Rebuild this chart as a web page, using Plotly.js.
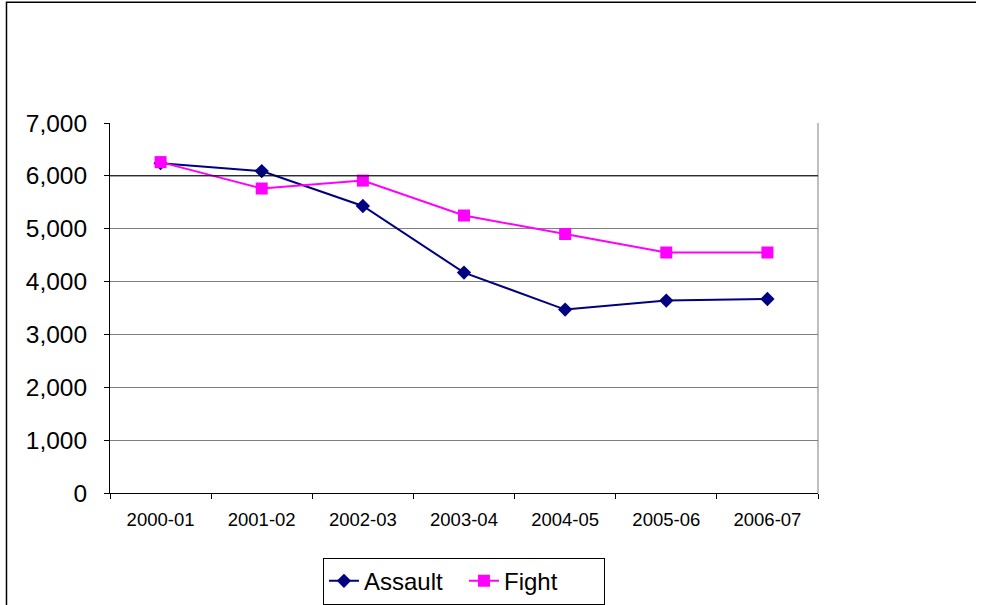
<!DOCTYPE html>
<html>
<head>
<meta charset="utf-8">
<script src="https://cdn.plot.ly/plotly-3.0.1.min.js"></script>
<style>html,body{margin:0;padding:0;background:#fff;}#chart{width:981px;height:605px;}</style>
</head>
<body>
<div id="chart"></div>
<script>
var categories = ["2000-01","2001-02","2002-03","2003-04","2004-05","2005-06","2006-07"];
var assault = [6240, 6090, 5430, 4170, 3470, 3640, 3670];
var fight = [6260, 5760, 5910, 5250, 4900, 4550, 4550];
var yTickVals = [0,1000,2000,3000,4000,5000,6000,7000];
var yTickText = ["0","1,000","2,000","3,000","4,000","5,000","6,000","7,000"];

var traces = [
  {x: categories, y: assault, name: "Assault", type: "scatter", mode: "lines+markers",
   line: {color: "#000080", width: 2}, marker: {symbol: "diamond", size: 11, color: "#000080"}},
  {x: categories, y: fight, name: "Fight", type: "scatter", mode: "lines+markers",
   line: {color: "#FF00FF", width: 2}, marker: {symbol: "square", size: 12, color: "#FF00FF"}}
];

var layout = {
  width: 981, height: 605,
  margin: {l: 110, r: 163, t: 123, b: 112, pad: 0, autoexpand: false},
  paper_bgcolor: "#fff", plot_bgcolor: "#fff",
  font: {family: "Arial, 'Liberation Sans', sans-serif", color: "#000"},
  showlegend: true,
  xaxis: {
    type: "category", range: [-0.5, 6.5], tickson: "boundaries",
    ticks: "outside", ticklen: 5, tickcolor: "#000", tickwidth: 1,
    showline: true, linecolor: "#000", linewidth: 1, showgrid: false, zeroline: false,
    tickfont: {size: 18.5, color: "#000"}, ticklabelstandoff: 10, fixedrange: true, automargin: false
  },
  yaxis: {
    range: [0, 7000], tickvals: yTickVals, ticktext: yTickText,
    ticks: "outside", ticklen: 5, tickcolor: "#000", tickwidth: 1,
    showline: true, linecolor: "#000", linewidth: 1,
    showgrid: true, gridcolor: "#808080", gridwidth: 1, zeroline: false,
    tickfont: {size: 24.5, color: "#000"}, ticklabelstandoff: 12, fixedrange: true, automargin: false
  },
  legend: {
    orientation: "h", x: 0.3008, xanchor: "left", y: -0.175, yanchor: "top",
    bordercolor: "#000", borderwidth: 1, bgcolor: "#fff",
    font: {size: 24, color: "#000"}, itemwidth: 30,
    entrywidth: 95, entrywidthmode: "pixels"
  },
  shapes: [
    {type: "line", xref: "paper", yref: "paper", x0: 1, x1: 1, y0: 0, y1: 1,
     line: {color: "#808080", width: 1}, layer: "below"},
    {type: "line", xref: "paper", yref: "y", x0: 0, x1: 1, y0: 6000, y1: 6000,
     line: {color: "#000", width: 1}, layer: "above"},
    {type: "path", xref: "paper", yref: "paper",
     path: "M -0.1462 -0.32 L -0.1462 1.3262 L 1.2232 1.3262",
     line: {color: "#000", width: 1.5}}
  ]
};

Plotly.newPlot("chart", traces, layout, {displayModeBar: false, staticPlot: true});
</script>
</body>
</html>
